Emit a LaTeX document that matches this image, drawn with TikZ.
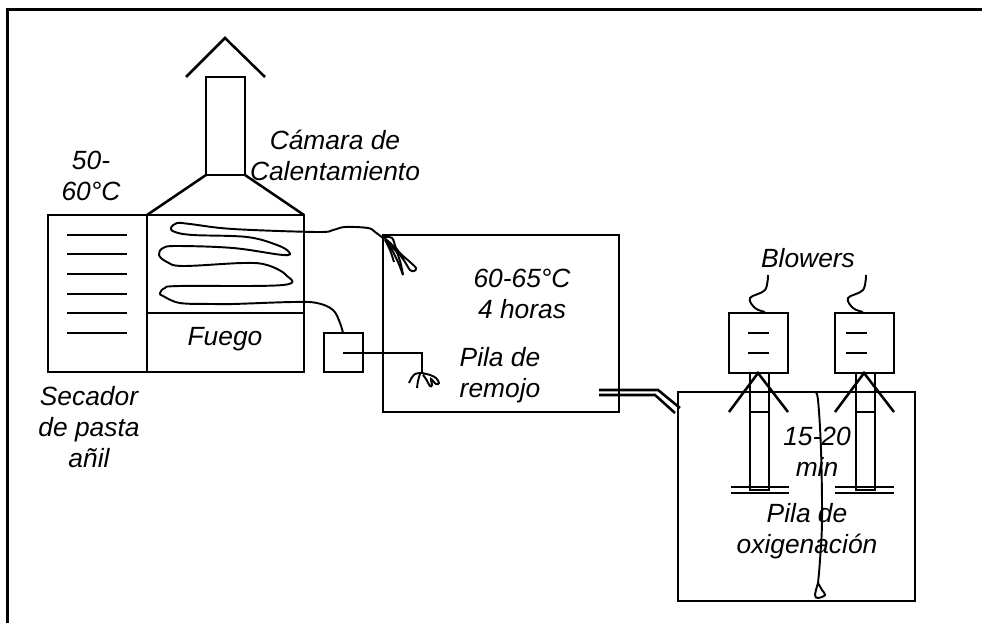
\documentclass[tikz,border=0pt]{standalone}
\usepackage{fontspec}
\setmainfont{Liberation Sans}
\tikzset{
	pared/.style={line width=0.72pt},
	curva/.style={line width=0.55pt,smooth,tension=0.6},
	texto/.style={inner sep=0pt,align=center,font=\fontsize{7.5}{8.8}\selectfont\itshape}
}

\begin{document}
\begin{tikzpicture}
		\useasboundingbox (0,0) rectangle (9.82,6.23);
		%\draw[blue] (0,0) grid (10,6);
		
		% marco
		\draw [pared](0.075,0) -- (0.075,6.135) -- (9.82,6.135);
		
		% chimenea
		\draw [pared](1.86,5.46) -- (2.25,5.85) -- (2.65,5.46);
		\draw [pared](2.06,4.48) rectangle (2.45,5.46);
		\draw [pared](1.47,4.08) -- (2.06,4.48);
		\draw [pared](2.45,4.48) -- (3.04,4.08);
		
		% secador y camara
		\draw [pared](0.48,2.51) rectangle (1.47,4.08);
		\draw [pared](1.47,2.51) rectangle (3.04,4.08);
		\draw [pared](1.47,3.10) -- (3.04,3.10);
		\foreach \y in {3.88,3.69,3.49,3.29,3.10,2.90}
			\draw [pared](0.67,\y) -- (1.27,\y);
		
		% serpentin
		\draw [curva] plot coordinates {(3.43,2.90) (3.40,3.00) (3.33,3.13) (3.17,3.20) (2.93,3.21) (2.33,3.19) (2.13,3.19) (1.80,3.20) (1.63,3.27) (1.60,3.30) (1.65,3.35) (1.80,3.37) (2.83,3.38) (2.86,3.48) (2.67,3.58) (2.43,3.60) (1.83,3.57) (1.67,3.61) (1.59,3.68) (1.63,3.75) (1.77,3.77) (2.33,3.75) (2.83,3.68) (2.89,3.71) (2.77,3.78) (2.47,3.86) (1.93,3.88) (1.75,3.91) (1.71,3.95) (1.77,4.00) (1.90,3.99) (2.33,3.94) (3.17,3.91) (3.33,3.93) (3.45,3.96) (3.68,3.95) (3.75,3.91) (3.83,3.85)};
		\draw [curva] plot coordinates {(3.83,3.86) (3.92,3.85) (3.96,3.75) (4.02,3.68) (4.10,3.61) (4.16,3.55) (4.14,3.52) (4.10,3.53) (4.05,3.61) (4.00,3.68) (3.95,3.73) (3.88,3.80)};
		\draw [curva] plot coordinates {(3.86,3.83) (3.92,3.73) (3.98,3.61) (4.03,3.48)};
		\draw [curva] plot coordinates {(3.85,3.83) (3.90,3.73) (3.94,3.61)};
		\draw [curva] plot coordinates {(3.84,3.85) (3.94,3.76) (4.00,3.62) (4.03,3.48)};
		
		% pila de remojo
		\draw [pared](3.24,2.51) rectangle (3.63,2.90);
		\draw [pared](3.83,2.11) rectangle (6.19,3.88);
		\draw [curva](3.43,2.70) -- (4.22,2.70) -- (4.22,2.49);
		\draw [curva] plot coordinates {(4.22,2.50) (4.15,2.49) (4.11,2.44) (4.09,2.40)};
		\draw [curva] plot coordinates {(4.20,2.49) (4.18,2.42) (4.17,2.35)};
		\draw [curva] plot coordinates {(4.22,2.50) (4.30,2.48) (4.36,2.45) (4.39,2.40) (4.36,2.39) (4.31,2.44) (4.32,2.38) (4.30,2.37) (4.26,2.44) (4.23,2.48)};
		
		% tubo
		\draw [pared](5.99,2.33) -- (6.58,2.33) -- (6.80,2.15);
		\draw [pared](5.99,2.28) -- (6.55,2.28) -- (6.75,2.10);
		
		% pila de oxigenacion
		\draw [pared](6.78,0.22) rectangle (9.15,2.31);
		\foreach \d/\l in {0/0,1.06/0.98}{
			\draw [pared](7.29+\d,2.50) rectangle (7.88+\d,3.10);
			\draw [pared](7.48+\l,2.90) -- (7.69+\l,2.90);
			\draw [pared](7.48+\l,2.70) -- (7.69+\l,2.70);
			\draw [pared](7.50+\d,1.33) rectangle (7.69+\d,2.50);
			\draw [pared](7.50+\d,2.11) -- (7.69+\d,2.11);
			\draw [pared](7.29+\d,2.11) -- (7.58+\d,2.50) -- (7.88+\d,2.11);
			\draw [curva] plot coordinates {(7.68+\l,3.48) (7.65+\l,3.33) (7.50+\l,3.25) (7.55+\l,3.15) (7.65+\l,3.11)};
		}
		\foreach \y in {1.36,1.30}{
			\draw [pared](7.31,\y) -- (7.89,\y);
			\draw [pared](8.35,\y) -- (8.94,\y);
		}
		\draw [curva] plot coordinates {(8.15,2.31) (8.18,2.23) (8.21,1.73) (8.22,1.03) (8.20,0.63) (8.18,0.40)};
		\draw [curva] plot coordinates {(8.18,0.40) (8.15,0.28) (8.18,0.25) (8.25,0.28) (8.22,0.33) (8.18,0.40)};
		
		% textos
		\node (camara) [texto,anchor=base] at (3.35,4.43) {Cámara de\\Calentamiento};
		\node (temp) [texto,anchor=base] at (0.91,4.23) {50-\\60°C};
		\node (fuego) [texto,anchor=base] at (2.25,2.78) {Fuego};
		\node (secador) [texto,anchor=base] at (0.89,1.56) {Secador\\de pasta\\añil};
		\node (remojo) [texto,anchor=base] at (5.22,3.05) {60-65°C\\4 horas};
		\node (pilar) [texto,anchor=base] at (5.00,2.26) {Pila de\\remojo};
		\node (blowers) [texto,anchor=base] at (8.08,3.56) {Blowers};
		\node (tiempo) [texto,anchor=base] at (8.17,1.47) {15-20\\min};
		\node (pilao) [texto,anchor=base] at (8.07,0.70) {Pila de\\oxigenación};
		
	\end{tikzpicture}
\end{document}
